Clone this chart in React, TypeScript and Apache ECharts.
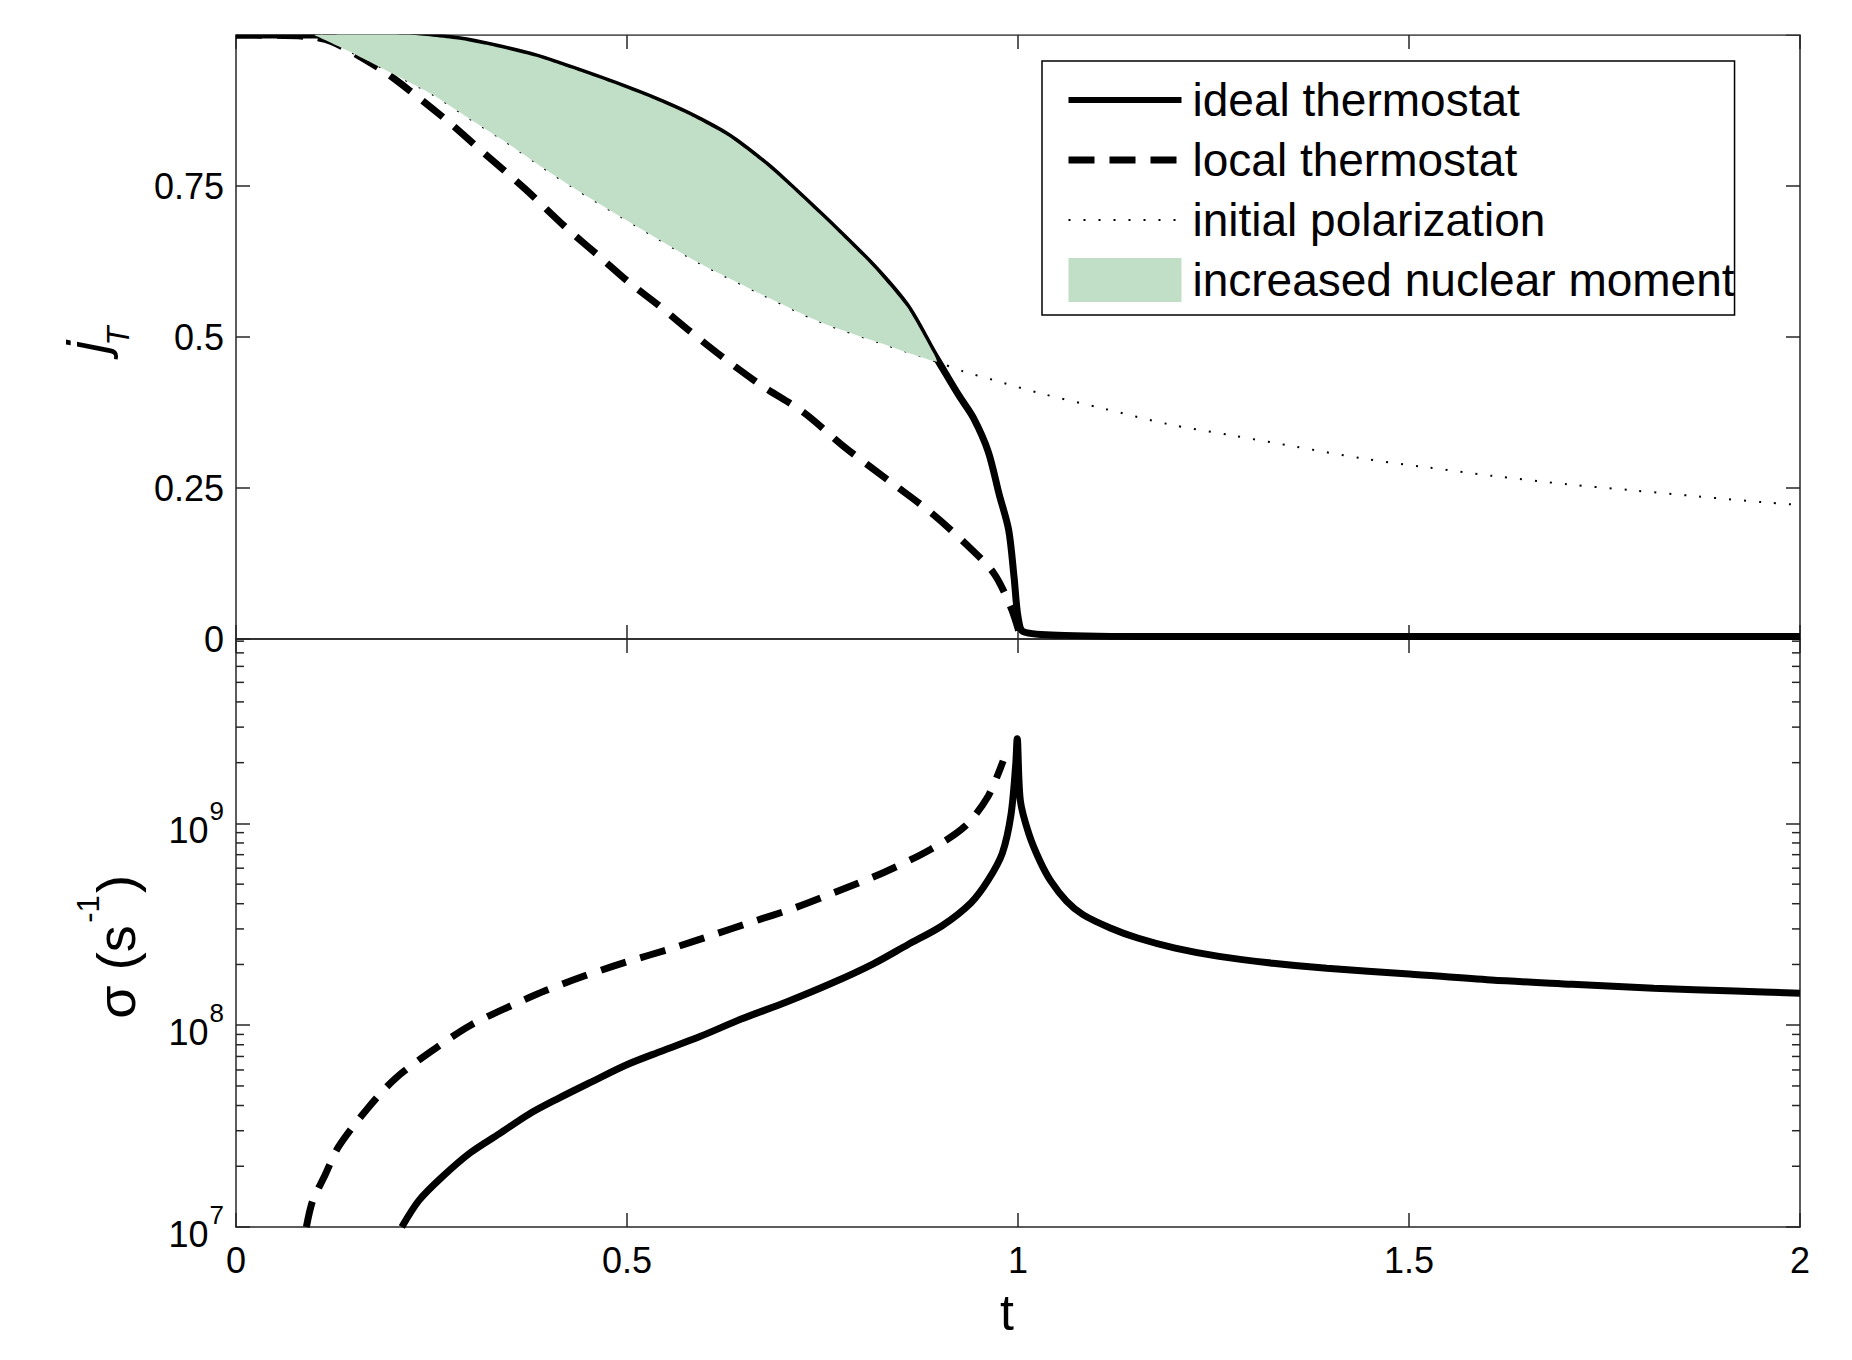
import React, { useEffect, useRef } from "react";
import * as echarts from "echarts";

// ---------- data ----------
// Upper panel: j_T versus t
const T_IDEAL_TOP = [0, 0.1, 0.227, 0.286, 0.33, 0.384, 0.43, 0.482, 0.53, 0.579, 0.63, 0.677, 0.704, 0.7575, 0.815, 0.858, 0.892, 0.905, 0.925, 0.943, 0.962, 0.976, 0.988, 0.995, 1.0, 1.007, 1.06, 1.2, 1.5, 2.0];
const J_IDEAL = [1, 1, 1, 0.992, 0.981, 0.964, 0.944, 0.92, 0.896, 0.868, 0.832, 0.786, 0.755, 0.69, 0.616, 0.55, 0.473, 0.445, 0.402, 0.366, 0.31, 0.239, 0.181, 0.102, 0.037, 0.012, 0.006, 0.004, 0.004, 0.004];

const T_LOCAL_TOP = [0, 0.087, 0.122, 0.183, 0.227, 0.271, 0.315, 0.369, 0.423, 0.465, 0.504, 0.54, 0.581, 0.627, 0.674, 0.726, 0.778, 0.837, 0.888, 0.932, 0.969, 0.991, 1.002];
const J_LOCAL = [1, 0.998, 0.989, 0.945, 0.903, 0.857, 0.807, 0.746, 0.68, 0.633, 0.589, 0.553, 0.509, 0.462, 0.418, 0.375, 0.318, 0.26, 0.21, 0.159, 0.109, 0.052, 0.009];

const T_INIT = [0, 0.105, 0.154, 0.2125, 0.252, 0.305, 0.345, 0.394, 0.433, 0.482, 0.531, 0.593, 0.67, 0.747, 0.824, 0.896, 0.93, 0.968, 1.028, 1.111, 1.191, 1.274, 1.357, 1.44, 1.524, 1.607, 1.704, 1.787, 1.87, 1.957, 2.0];
const J_INIT = [1, 0.997, 0.967, 0.928, 0.901, 0.856, 0.823, 0.779, 0.746, 0.707, 0.669, 0.622, 0.572, 0.525, 0.49, 0.459, 0.443, 0.429, 0.407, 0.381, 0.356, 0.337, 0.318, 0.299, 0.284, 0.27, 0.256, 0.246, 0.236, 0.226, 0.222];

// shaded region spans this t range (between ideal curve and initial polarization)
const FILL_T_RANGE = [0.1, 0.9];

// Lower panel: sigma (s^-1) versus t
const T_IDEAL_BOT = [0.212, 0.234, 0.263, 0.3, 0.337, 0.374, 0.41, 0.454, 0.499, 0.543, 0.594, 0.646, 0.704, 0.763, 0.815, 0.859, 0.903, 0.94, 0.962, 0.98, 0.991, 0.997, 0.999, 1.003, 1.014, 1.028, 1.042, 1.062, 1.083, 1.118, 1.153, 1.201, 1.257, 1.326, 1.395, 1.5, 1.605, 1.709, 1.813, 1.917, 2.0];
const SIGMA_IDEAL = [1.0e7, 1.355e7, 1.762e7, 2.339e7, 2.904e7, 3.614e7, 4.295e7, 5.224e7, 6.353e7, 7.413e7, 8.81e7, 1.072e8, 1.303e8, 1.622e8, 2.014e8, 2.506e8, 3.112e8, 4.046e8, 5.248e8, 7.129e8, 1.102e9, 1.936e9, 2.63e9, 1.297e9, 8.851e8, 6.516e8, 5.176e8, 4.121e8, 3.532e8, 3.034e8, 2.704e8, 2.41e8, 2.193e8, 2.028e8, 1.914e8, 1.795e8, 1.675e8, 1.596e8, 1.524e8, 1.476e8, 1.439e8];

const T_LOCAL_BOT = [0.09, 0.098, 0.1125, 0.131, 0.168, 0.204, 0.256, 0.3, 0.351, 0.396, 0.447, 0.499, 0.557, 0.609, 0.66, 0.712, 0.763, 0.829, 0.888, 0.932, 0.962, 0.981];
const SIGMA_LOCAL = [1.0e7, 1.349e7, 1.762e7, 2.495e7, 3.855e7, 5.458e7, 7.727e7, 1.0e8, 1.245e8, 1.486e8, 1.762e8, 2.056e8, 2.399e8, 2.793e8, 3.251e8, 3.784e8, 4.508e8, 5.728e8, 7.43e8, 9.66e8, 1.368e9, 2.042e9];

// axes
const T_MIN = 0, T_MAX = 2, T_STEP = 0.5;
const J_MIN = 0, J_MAX = 1, J_STEP = 0.25;
const SIGMA_MIN = 1e7, SIGMA_MAX = 8.2e9;
const LOG_MINOR_TICKS = [2e7, 3e7, 4e7, 5e7, 6e7, 7e7, 8e7, 9e7, 2e8, 3e8, 4e8, 5e8, 6e8, 7e8, 8e8, 9e8, 2e9, 3e9, 4e9, 5e9, 6e9, 7e9, 8e9];

const NAMES = ["ideal thermostat", "local thermostat", "initial polarization", "increased nuclear moment"];

// ---------- styling ----------
const FONT = "'Liberation Sans', Arial, Helvetica, sans-serif";
const GREEN = "#c1dfc6";
const AXIS_COLOR = "#262626";
const BLACK = "#000";
const SMOOTH = 0.3;
const GRID_LEFT = 236, GRID_TOP = 35, GRID_W = 1564;

const zip = (a: number[], b: number[]) => a.map((v, i) => [v, b[i]]);

function buildOption() {
  const axisLine = { show: true, onZero: false, lineStyle: { color: AXIS_COLOR, width: 1.5 } };
  const tick = { show: true, inside: true, length: 14, lineStyle: { color: AXIS_COLOR, width: 1.5 } };
  const noSplit = { show: false };

  const xBase = (gridIndex: number, position: string, labels: boolean) => ({
    type: "value",
    gridIndex,
    position,
    min: T_MIN,
    max: T_MAX,
    interval: T_STEP,
    axisLine,
    axisTick: tick,
    splitLine: noSplit,
    axisLabel: labels
      ? { show: true, fontSize: 36, fontFamily: FONT, color: BLACK, margin: 15 }
      : { show: false },
  });

  const isPow10 = (v: number) => {
    const l = Math.log10(v);
    return Math.abs(l - Math.round(l)) < 1e-6;
  };

  const upperFill = zip(T_IDEAL_TOP, J_IDEAL).filter(([t]) => t >= FILL_T_RANGE[0] && t <= FILL_T_RANGE[1]);
  const lowerFill = zip(T_INIT, J_INIT).filter(([t]) => t >= FILL_T_RANGE[0] && t <= FILL_T_RANGE[1]);

  const lineSeries = (name: string, xi: number, yi: number, data: number[][], width: number, type?: any) => ({
    name,
    type: "line",
    xAxisIndex: xi,
    yAxisIndex: yi,
    symbol: "none",
    smooth: SMOOTH,
    z: 2,
    lineStyle: type ? { color: BLACK, width, type } : { color: BLACK, width },
    itemStyle: { color: BLACK },
    data,
  });

  return {
    animation: false,
    backgroundColor: "#fff",
    textStyle: { fontFamily: FONT },
    grid: [
      { left: GRID_LEFT, top: GRID_TOP, width: GRID_W, height: 604 },
      { left: GRID_LEFT, top: 639, width: GRID_W, height: 588 },
    ],
    xAxis: [
      xBase(0, "bottom", false),
      xBase(0, "top", false),
      xBase(1, "bottom", true),
      xBase(1, "top", false),
    ],
    yAxis: [
      {
        type: "value",
        gridIndex: 0,
        position: "left",
        min: J_MIN,
        max: J_MAX,
        interval: J_STEP,
        axisLine,
        axisTick: tick,
        splitLine: noSplit,
        axisLabel: { show: true, fontSize: 36, fontFamily: FONT, color: BLACK, margin: 12, showMaxLabel: false },
      },
      {
        type: "value",
        gridIndex: 0,
        position: "right",
        min: J_MIN,
        max: J_MAX,
        interval: J_STEP,
        axisLine,
        axisTick: tick,
        splitLine: noSplit,
        axisLabel: { show: false },
      },
      {
        type: "log",
        logBase: 10,
        gridIndex: 1,
        position: "left",
        min: SIGMA_MIN,
        max: SIGMA_MAX,
        axisLine,
        axisTick: tick,
        splitLine: noSplit,
        axisLabel: {
          show: true,
          margin: 12,
          color: BLACK,
          fontFamily: FONT,
          formatter: (v: number) => (isPow10(v) ? `{b|10}{s|${Math.round(Math.log10(v))}}` : ""),
          rich: {
            b: { fontSize: 36, fontFamily: FONT, color: BLACK, padding: [14, 0, 0, 0], verticalAlign: "bottom" },
            s: { fontSize: 26, fontFamily: FONT, color: BLACK, verticalAlign: "top", padding: [0, 0, 0, 1] },
          },
        },
      },
      {
        type: "log",
        logBase: 10,
        gridIndex: 1,
        position: "right",
        min: SIGMA_MIN,
        max: SIGMA_MAX,
        axisLine,
        axisTick: tick,
        splitLine: noSplit,
        axisLabel: { show: false },
      },
    ],
    legend: {
      orient: "vertical",
      left: 1042,
      top: 61,
      itemWidth: 113,
      itemHeight: 44,
      itemGap: 14,
      padding: [16, 0, 12, 23],
      borderColor: BLACK,
      borderWidth: 1.5,
      backgroundColor: "#fff",
      selectedMode: false,
      textStyle: { fontSize: 46, lineHeight: 44, fontFamily: FONT, color: BLACK, padding: [0, 0, 0, 6] },
      data: [
        { name: NAMES[0], itemStyle: { opacity: 0 }, lineStyle: { width: 6 } },
        { name: NAMES[1], itemStyle: { opacity: 0 }, lineStyle: { width: 7 } },
        { name: NAMES[2], itemStyle: { opacity: 0 }, lineStyle: { width: 2 } },
        { name: NAMES[3], icon: "rect", itemStyle: { color: GREEN } },
      ],
    },
    graphic: [
      // hide the half of the thick curve that spills above the top frame
      { type: "rect", z: 100, silent: true, shape: { x: GRID_LEFT - 6, y: 0, width: GRID_W + 12, height: GRID_TOP - 0.8 }, style: { fill: "#fff" } },
      { type: "text", x: 86, y: 347, rotation: Math.PI / 2, style: { text: "j", font: `italic 56px ${FONT}`, fill: BLACK, align: "center", verticalAlign: "middle" } },
      { type: "text", x: 118, y: 336, rotation: Math.PI / 2, style: { text: "T", font: `italic 31px ${FONT}`, fill: BLACK, align: "center", verticalAlign: "middle" } },
      { type: "text", x: 116, y: 972, rotation: Math.PI / 2, style: { text: "σ (s", font: `54px ${FONT}`, fill: BLACK, align: "center", verticalAlign: "middle" } },
      { type: "text", x: 88, y: 909, rotation: Math.PI / 2, style: { text: "-1", font: `31px ${FONT}`, fill: BLACK, align: "center", verticalAlign: "middle" } },
      { type: "text", x: 116, y: 884, rotation: Math.PI / 2, style: { text: ")", font: `54px ${FONT}`, fill: BLACK, align: "center", verticalAlign: "middle" } },
      { type: "text", x: 1007, y: 1313, style: { text: "t", font: `50px ${FONT}`, fill: BLACK, align: "center", verticalAlign: "middle" } },
    ],
    series: [
      lineSeries(NAMES[0], 0, 0, zip(T_IDEAL_TOP, J_IDEAL), 7),
      lineSeries(NAMES[1], 0, 0, zip(T_LOCAL_TOP, J_LOCAL), 7, [26, 15]),
      lineSeries(NAMES[2], 0, 0, zip(T_INIT, J_INIT), 2, [2, 13]),
      {
        name: NAMES[3],
        type: "custom",
        coordinateSystem: "cartesian2d",
        xAxisIndex: 0,
        yAxisIndex: 0,
        z: 3,
        silent: true,
        itemStyle: { color: GREEN },
        data: [upperFill[0]],
        renderItem: (_params: any, api: any) => {
          const pts: number[][] = [];
          upperFill.forEach((p) => pts.push(api.coord(p)));
          for (let i = lowerFill.length - 1; i >= 0; i--) pts.push(api.coord(lowerFill[i]));
          return { type: "polygon", shape: { points: pts, smooth: 0.2 }, style: { fill: GREEN, stroke: "none" } };
        },
      },
      lineSeries(NAMES[0], 2, 2, zip(T_IDEAL_BOT, SIGMA_IDEAL), 7),
      lineSeries(NAMES[1], 2, 2, zip(T_LOCAL_BOT, SIGMA_LOCAL), 7, [26, 15]),
      {
        name: "minor ticks",
        type: "custom",
        coordinateSystem: "cartesian2d",
        xAxisIndex: 2,
        yAxisIndex: 2,
        silent: true,
        z: 1,
        data: LOG_MINOR_TICKS.map((v) => [T_MIN, v]),
        renderItem: (params: any, api: any) => {
          const y = api.coord([T_MIN, api.value(1)])[1];
          const cs = params.coordSys;
          const st = { stroke: AXIS_COLOR, lineWidth: 1.5 };
          return {
            type: "group",
            children: [
              { type: "line", shape: { x1: cs.x, y1: y, x2: cs.x + 8, y2: y }, style: st },
              { type: "line", shape: { x1: cs.x + cs.width - 8, y1: y, x2: cs.x + cs.width, y2: y }, style: st },
            ],
          };
        },
      },
    ],
  };
}

export default function App() {
  const ref = useRef<HTMLDivElement>(null);
  useEffect(() => {
    document.body.style.margin = "0";
    const chart = echarts.init(ref.current as HTMLDivElement, null, { renderer: "svg" });
    chart.setOption(buildOption() as any);
    return () => chart.dispose();
  }, []);
  return <div ref={ref} style={{ width: 1852, height: 1360 }} />;
}
